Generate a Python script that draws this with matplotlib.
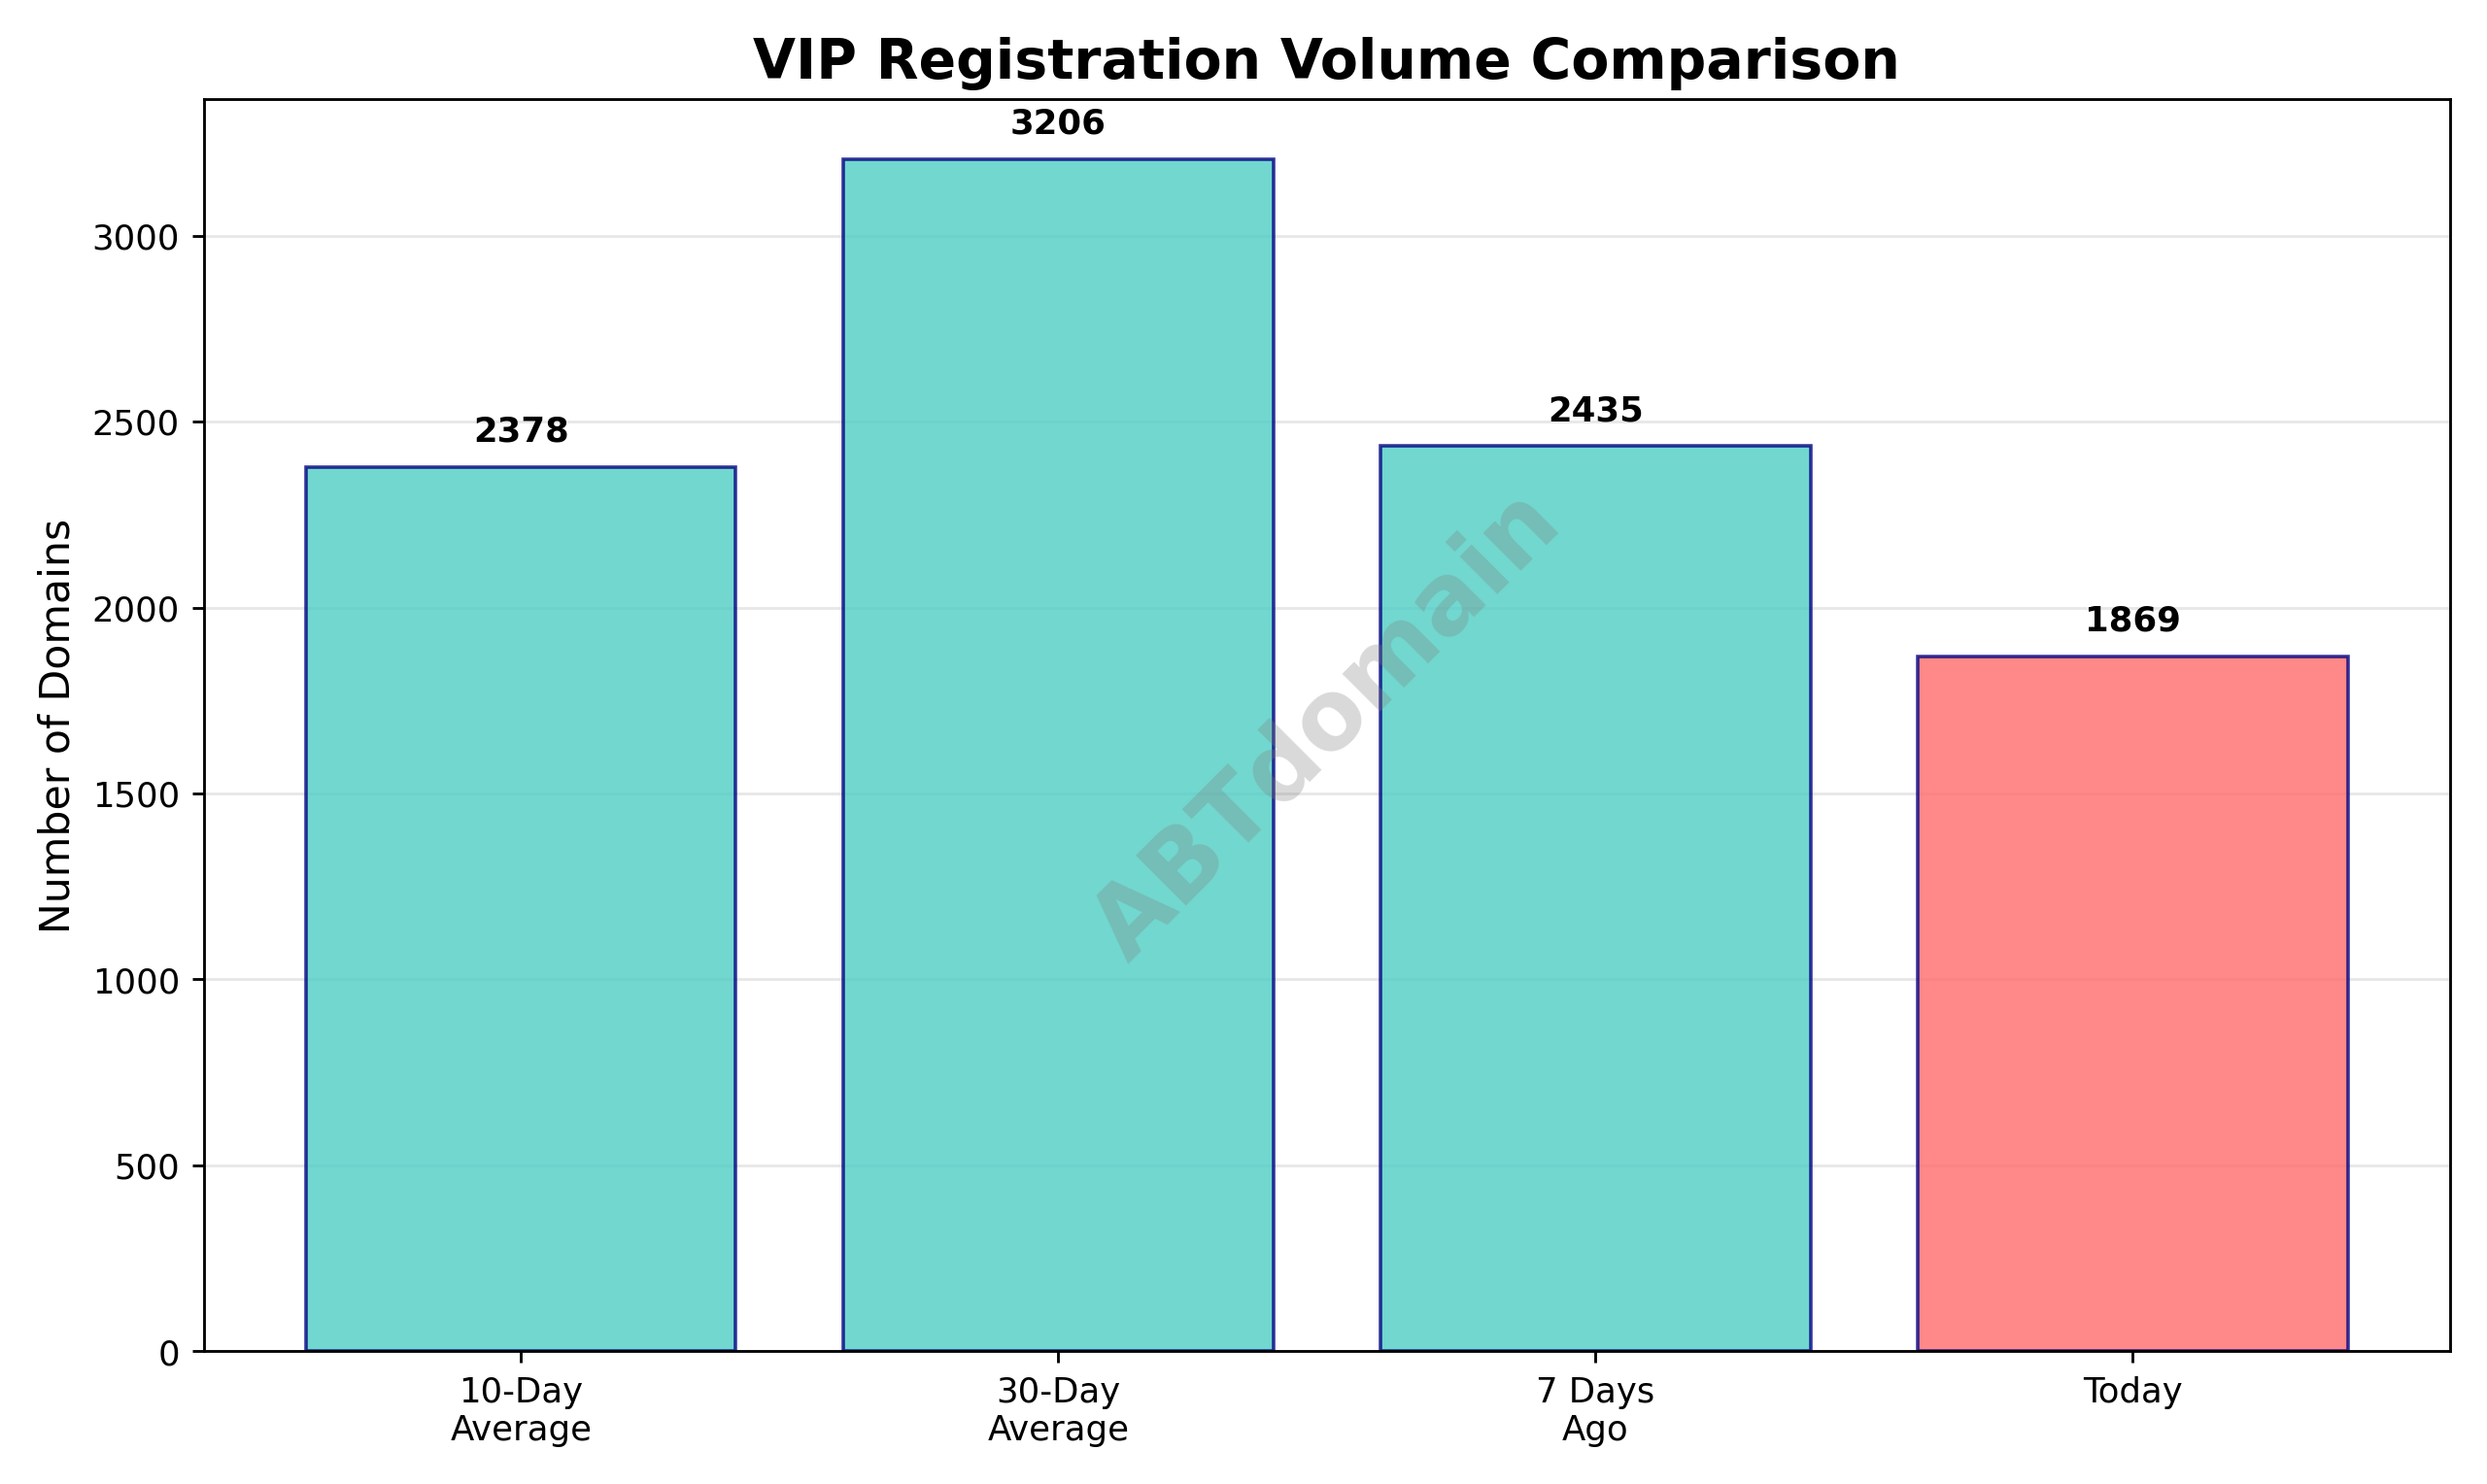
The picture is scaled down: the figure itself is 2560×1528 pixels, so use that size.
import matplotlib.pyplot as plt

categories = ["10-Day\nAverage", "30-Day\nAverage", "7 Days\nAgo", "Today"]
values = [2378, 3206, 2435, 1869]
bar_colors = ["#4ECDC4", "#4ECDC4", "#4ECDC4", "#FF6B6B"]

fig, ax = plt.subplots(figsize=(10, 5.97), dpi=256)
bars = ax.bar(categories, values, color=bar_colors, alpha=0.8,
              edgecolor="navy", linewidth=1)

for bar, v in zip(bars, values):
    ax.text(bar.get_x() + bar.get_width() / 2, v + 50, str(v),
            ha="center", va="bottom", fontweight="bold", fontsize=10)

ax.set_ylim(0, max(values) * 1.05)
ax.set_ylabel("Number of Domains", fontsize=12)
ax.set_title("VIP Registration Volume Comparison", fontsize=16, fontweight="bold")
ax.grid(axis="y", alpha=0.3)
ax.set_axisbelow(True)

ax.text(0.5, 0.5, "ABTdomain", transform=ax.transAxes, fontsize=28,
        color="gray", alpha=0.3, ha="center", va="center", rotation=45,
        fontweight="bold")

plt.tight_layout()
plt.savefig("out.png", dpi=256)
